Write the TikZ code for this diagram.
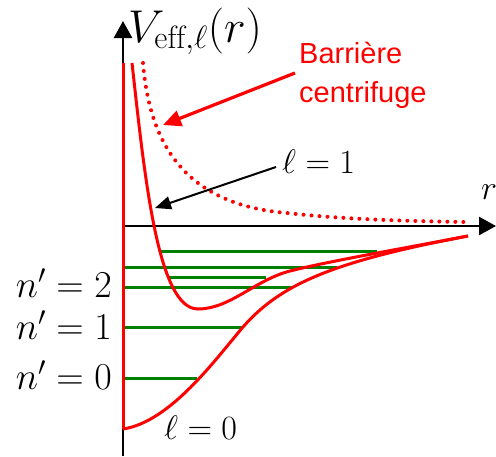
\RequirePackage{fix-cm}
\documentclass[tikz,border=0pt]{standalone}
\usepackage{fontspec}
\newfontfamily\barfont{Liberation Sans}
\usetikzlibrary{arrows.meta}
\definecolor{lvlgreen}{RGB}{0,128,0}
\begin{document}
\begin{tikzpicture}[x=1pt,y=-1pt,
  axisline/.style={line width=2.6pt,-{Triangle[length=17pt,width=18pt]}},
  curve/.style={red,line width=3pt},
  level/.style={lvlgreen,line width=3pt},
  mathlbl/.style={inner sep=0pt,font=\fontsize{34}{38}\selectfont},
  nlbl/.style={inner sep=0pt,font=\fontsize{38}{42}\selectfont},
  vlbl/.style={inner sep=0pt,font=\fontsize{46}{52}\selectfont},
  redlbl/.style={inner sep=0pt,red,font=\barfont\fontsize{29}{36}\selectfont}]
\useasboundingbox (0,0) rectangle (496,456);
% green levels
\draw[level] (160,251) -- (377,251);
\draw[level] (123,267) -- (337,267);
\draw[level] (168,277) -- (266,277);
\draw[level] (123,287) -- (292,287);
\draw[level] (123,327) -- (243,327);
\draw[level] (123,378) -- (197,378);
% axes
\coordinate (o) at (123,226);
\coordinate (ybot) at (123,456);
\coordinate (ytop) at (123,21);
\coordinate (xend) at (496,226);
\draw[axisline] (ybot) -- (ytop);
\draw[axisline] (o) -- (xend);
% red curves
\draw[curve] (123,63) -- (123,429);
\draw[curve] (123,429) .. controls (170,422) and (215,360) .. (243,327)
  .. controls (280,285) and (330,262) .. (468,236);
\draw[curve] (132,63) .. controls (145,180) and (158,309) .. (198,309)
  .. controls (230,309) and (255,280) .. (290,271)
  .. controls (330,261) and (400,249) .. (468,236);
\draw[curve,line width=4pt,line cap=round,dash pattern=on 0pt off 8pt] (143,63) .. controls (150,150) and (190,205) .. (287,213)
  .. controls (340,219) and (400,221) .. (465,222);
% labels
\node[vlbl,anchor=base west] (vl) at (128,42) {$V_{\mathrm{eff},\ell}(r)$};
\node[mathlbl,anchor=base west] (rlbl) at (481,199) {$r$};
\node[mathlbl,anchor=base west] (l1) at (282,173) {$\ell=1$};
\node[mathlbl,anchor=base west] (l0) at (164,439) {$\ell=0$};
\node[nlbl,anchor=base east] (n2) at (112,297) {$n'=2$};
\node[nlbl,anchor=base east] (n1) at (112,339) {$n'=1$};
\node[nlbl,anchor=base east] (n0) at (112,389) {$n'=0$};
\node[redlbl,anchor=base west] (bar1) at (299,63) {Barrière};
\node[redlbl,anchor=base west] (bar2) at (299,102) {centrifuge};
% arrows
\coordinate (redstart) at (295,73);
\coordinate (redtip) at (163,125);
\coordinate (blkstart) at (276,167);
\coordinate (blktip) at (155,208);
\draw[red,line width=3.2pt,-{Triangle[length=18pt,width=16pt]}] (redstart) -- (redtip);
\draw[black,line width=2pt,-{Triangle[length=16pt,width=13pt]}] (blkstart) -- (blktip);
\end{tikzpicture}
\end{document}
